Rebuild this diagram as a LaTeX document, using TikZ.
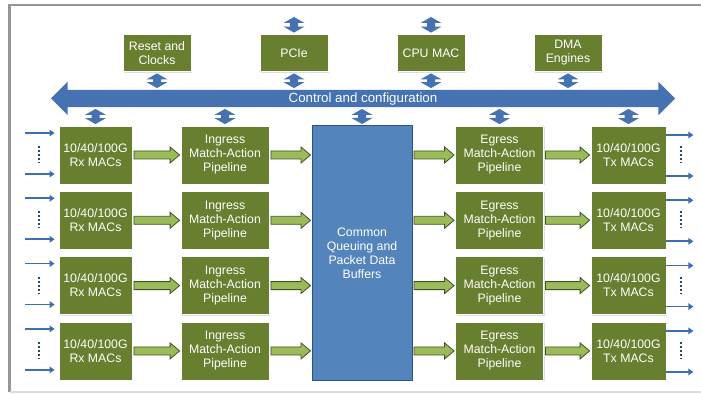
\documentclass[tikz,border=0pt]{standalone}
\usepackage{fontspec}
\setmainfont{Liberation Sans}
\usetikzlibrary{positioning,calc,shapes.arrows,shadows,arrows.meta}
\definecolor{macgreen}{RGB}{104,127,47}
\definecolor{busblue}{RGB}{70,114,178}
\definecolor{bufblue}{RGB}{84,132,188}
\definecolor{bufline}{RGB}{45,82,130}
\definecolor{flowgreen}{RGB}{155,187,89}
\definecolor{flowline}{RGB}{60,85,35}
\definecolor{ioblue}{RGB}{62,110,178}
\definecolor{dotblue}{RGB}{40,70,120}
\definecolor{framegray}{RGB}{150,150,150}
\definecolor{framelight}{RGB}{218,218,218}

\begin{document}
\begin{tikzpicture}[x=1pt,y=-1pt,node distance=137pt,font=\fontsize{12.3}{14}\selectfont]
\tikzstyle{block}=[rectangle,fill=macgreen,draw=white,line width=0.8pt,text=white,align=center,inner sep=0pt,minimum height=58pt,drop shadow={shadow xshift=1.2pt,shadow yshift=-1.2pt,opacity=0.25}]
\tikzstyle{rx}=[block,minimum width=73pt]
\tikzstyle{pipe}=[block,minimum width=88pt]
\tikzstyle{tx}=[block,minimum width=75pt]
\tikzstyle{unit}=[block,minimum width=68pt,minimum height=37pt]
\tikzstyle{buffer}=[rectangle,fill=bufblue,draw=bufline,line width=1pt,text=white,align=center,minimum width=100pt,minimum height=254pt]
\tikzstyle{bus}=[double arrow,fill=busblue,text=white,minimum height=624pt,double arrow head extend=8pt,inner xsep=0pt,inner ysep=0pt,text height=13pt,text depth=4pt,font=\fontsize{13.3}{14}\selectfont]
\tikzstyle{dbl}=[draw=none,fill=busblue,to path={let \p1=(\tikztostart), \p2=(\tikztotarget) in
  (\x1,\y1-1.5pt) -- (\x1+10.5pt,\y1-7.5pt) -- (\x1+4pt,\y1-7.5pt) -- (\x1+4pt,\y2+7.5pt) -- (\x1+10.5pt,\y2+7.5pt) -- (\x1,\y2+1.5pt)
  -- (\x1-10.5pt,\y2+7.5pt) -- (\x1-4pt,\y2+7.5pt) -- (\x1-4pt,\y1-7.5pt) -- (\x1-10.5pt,\y1-7.5pt) -- cycle}]
\tikzstyle{flow}=[draw=flowline,fill=flowgreen,line width=0.8pt,to path={let \p1=(\tikztostart), \p2=(\tikztotarget) in
  (\x1+1.5pt,\y1+4pt) -- (\x2-10.5pt,\y1+4pt) -- (\x2-10.5pt,\y1+8pt) -- (\x2-1pt,\y1) -- (\x2-10.5pt,\y1-8pt) -- (\x2-10.5pt,\y1-4pt) -- (\x1+1.5pt,\y1-4pt) -- cycle}]
\tikzstyle{io}=[draw=ioblue,line width=1.6pt,-{Triangle[length=5pt,width=6.5pt]}]
\tikzstyle{dots}=[draw=dotblue,line width=2pt,dash pattern=on 2pt off 2pt]

\useasboundingbox (0,0) rectangle (701,395);
\draw[framegray,line width=2.5pt] (9.5,392) -- (9.5,5) -- (701,5);
\draw[framelight,line width=1.5pt] (9.5,392) -- (701,392);

\node[unit] (rst) at (157,53) {Reset and\\Clocks};
\node[unit] (pcie) [right of=rst] {PCIe};
\node[unit] (cpu) [right of=pcie] {CPU MAC};
\node[unit] (dma) [right of=cpu] {DMA\\Engines};
\coordinate (pcieup) at (pcie.north |- 0,15.5);
\coordinate (cpuup) at (cpu.north |- 0,15.5);

\node[bus] (bus) at (363,98.5) {Control and configuration};
\node[buffer] (buf) at (362,253) {Common\\Queuing and\\Packet Data\\Buffers};

\node[rx] (rx1) at (95.5,155) {10/40/100G\\Rx MACs};
\node[pipe] (ing1) [node distance=129.5pt,right of=rx1] {Ingress\\Match-Action\\Pipeline};
\node[pipe] (egr1) [node distance=274.5pt,right of=ing1] {Egress\\Match-Action\\Pipeline};
\node[tx] (tx1) [node distance=129pt,right of=egr1] {10/40/100G\\Tx MACs};
\node[rx] (rx2) [node distance=65.3pt,below of=rx1] {10/40/100G\\Rx MACs};
\node[pipe] (ing2) [node distance=65.3pt,below of=ing1] {Ingress\\Match-Action\\Pipeline};
\node[pipe] (egr2) [node distance=65.3pt,below of=egr1] {Egress\\Match-Action\\Pipeline};
\node[tx] (tx2) [node distance=65.3pt,below of=tx1] {10/40/100G\\Tx MACs};
\node[rx] (rx3) [node distance=65.3pt,below of=rx2] {10/40/100G\\Rx MACs};
\node[pipe] (ing3) [node distance=65.3pt,below of=ing2] {Ingress\\Match-Action\\Pipeline};
\node[pipe] (egr3) [node distance=65.3pt,below of=egr2] {Egress\\Match-Action\\Pipeline};
\node[tx] (tx3) [node distance=65.3pt,below of=tx2] {10/40/100G\\Tx MACs};
\node[rx] (rx4) [node distance=65.3pt,below of=rx3] {10/40/100G\\Rx MACs};
\node[pipe] (ing4) [node distance=65.3pt,below of=ing3] {Ingress\\Match-Action\\Pipeline};
\node[pipe] (egr4) [node distance=65.3pt,below of=egr3] {Egress\\Match-Action\\Pipeline};
\node[tx] (tx4) [node distance=65.3pt,below of=tx3] {10/40/100G\\Tx MACs};

\path (pcieup) edge[dbl] (pcie.north);
\path (cpuup) edge[dbl] (cpu.north);
\path (rst.south) edge[dbl] (rst.south |- bus.north);
\path (pcie.south) edge[dbl] (pcie.south |- bus.north);
\path (cpu.south) edge[dbl] (cpu.south |- bus.north);
\path (dma.south) edge[dbl] (dma.south |- bus.north);

\path (rx1.north |- bus.south) edge[dbl] (rx1.north);
\path (ing1.north |- bus.south) edge[dbl] (ing1.north);
\path (buf.north |- bus.south) edge[dbl] (buf.north);
\path (egr1.north |- bus.south) edge[dbl] (egr1.north);
\path (tx1.north |- bus.south) edge[dbl] (tx1.north);

\path (rx1.east) edge[flow] (ing1.west);
\path (rx2.east) edge[flow] (ing2.west);
\path (rx3.east) edge[flow] (ing3.west);
\path (rx4.east) edge[flow] (ing4.west);

\path (ing1.east) edge[flow] (ing1.east -| buf.west);
\path (ing2.east) edge[flow] (ing2.east -| buf.west);
\path (ing3.east) edge[flow] (ing3.east -| buf.west);
\path (ing4.east) edge[flow] (ing4.east -| buf.west);

\path (buf.east |- egr1.west) edge[flow] (egr1.west);
\path (buf.east |- egr2.west) edge[flow] (egr2.west);
\path (buf.east |- egr3.west) edge[flow] (egr3.west);
\path (buf.east |- egr4.west) edge[flow] (egr4.west);

\path (egr1.east) edge[flow] (tx1.west);
\path (egr2.east) edge[flow] (tx2.west);
\path (egr3.east) edge[flow] (tx3.west);
\path (egr4.east) edge[flow] (tx4.west);

\coordinate (in1a) at ([shift={(-34,-22)}]rx1.west);
\coordinate (in1b) at ([shift={(-34,19)}]rx1.west);
\coordinate (in2a) at ([shift={(-34,-22)}]rx2.west);
\coordinate (in2b) at ([shift={(-34,19)}]rx2.west);
\coordinate (in3a) at ([shift={(-34,-22)}]rx3.west);
\coordinate (in3b) at ([shift={(-34,19)}]rx3.west);
\coordinate (in4a) at ([shift={(-34,-22)}]rx4.west);
\coordinate (in4b) at ([shift={(-34,19)}]rx4.west);
\draw[io,shorten >=4pt] (in1a) -- (in1a -| rx1.west);
\draw[io,shorten >=4pt] (in1b) -- (in1b -| rx1.west);
\draw[io,shorten >=4pt] (in2a) -- (in2a -| rx2.west);
\draw[io,shorten >=4pt] (in2b) -- (in2b -| rx2.west);
\draw[io,shorten >=4pt] (in3a) -- (in3a -| rx3.west);
\draw[io,shorten >=4pt] (in3b) -- (in3b -| rx3.west);
\draw[io,shorten >=4pt] (in4a) -- (in4a -| rx4.west);
\draw[io,shorten >=4pt] (in4b) -- (in4b -| rx4.west);
\draw[dots] ([shift={(-20,-9)}]rx1.west) -- ([shift={(-20,8)}]rx1.west);
\draw[dots] ([shift={(-20,-9)}]rx2.west) -- ([shift={(-20,8)}]rx2.west);
\draw[dots] ([shift={(-20,-9)}]rx3.west) -- ([shift={(-20,8)}]rx3.west);
\draw[dots] ([shift={(-20,-9)}]rx4.west) -- ([shift={(-20,8)}]rx4.west);

\coordinate (out1a) at ([shift={(27,-20)}]tx1.east);
\coordinate (out1b) at ([shift={(27,21)}]tx1.east);
\coordinate (out2a) at ([shift={(27,-20)}]tx2.east);
\coordinate (out2b) at ([shift={(27,21)}]tx2.east);
\coordinate (out3a) at ([shift={(27,-20)}]tx3.east);
\coordinate (out3b) at ([shift={(27,21)}]tx3.east);
\coordinate (out4a) at ([shift={(27,-20)}]tx4.east);
\coordinate (out4b) at ([shift={(27,21)}]tx4.east);
\draw[io] (tx1.east |- out1a) -- (out1a);
\draw[io] (tx1.east |- out1b) -- (out1b);
\draw[io] (tx2.east |- out2a) -- (out2a);
\draw[io] (tx2.east |- out2b) -- (out2b);
\draw[io] (tx3.east |- out3a) -- (out3a);
\draw[io] (tx3.east |- out3b) -- (out3b);
\draw[io] (tx4.east |- out4a) -- (out4a);
\draw[io] (tx4.east |- out4b) -- (out4b);
\draw[dots] ([shift={(15,-9)}]tx1.east) -- ([shift={(15,8)}]tx1.east);
\draw[dots] ([shift={(15,-9)}]tx2.east) -- ([shift={(15,8)}]tx2.east);
\draw[dots] ([shift={(15,-9)}]tx3.east) -- ([shift={(15,8)}]tx3.east);
\draw[dots] ([shift={(15,-9)}]tx4.east) -- ([shift={(15,8)}]tx4.east);

\end{tikzpicture}
\end{document}
